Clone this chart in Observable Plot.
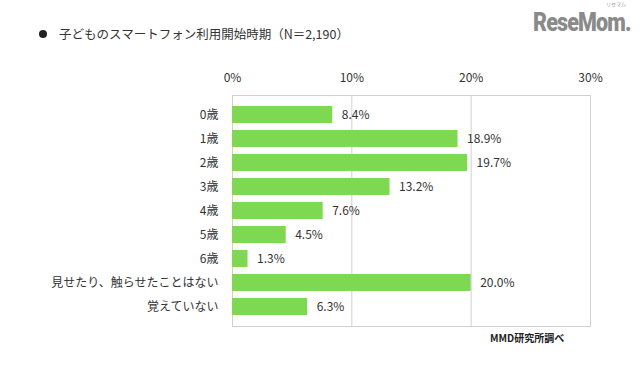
<!DOCTYPE html>
<html><head><meta charset="utf-8">
<script src="https://cdn.jsdelivr.net/npm/d3@7"></script>
<script src="https://cdn.jsdelivr.net/npm/@observablehq/plot@0.6"></script>
<style>
body{margin:0;background:#fff;font-family:"Noto Sans CJK JP","Noto Sans",sans-serif;}
#wrap{position:relative;width:640px;height:366px;overflow:hidden;}
#title{position:absolute;left:39px;top:24px;font-size:12.5px;color:#333;white-space:nowrap;}
#title .dot{display:inline-block;width:8px;height:8px;border-radius:50%;background:#222;margin-right:12px;vertical-align:1px;}
#logo{position:absolute;left:533px;top:12px;line-height:22px;font-family:"Roboto","DejaVu Sans",sans-serif;font-weight:900;font-size:25px;color:#8a8a8a;letter-spacing:-1px;transform:scaleX(0.86);transform-origin:left top;white-space:nowrap;}
#logo2{position:absolute;left:606px;top:1px;line-height:6px;font-size:5px;color:#999;white-space:nowrap;}
#src{position:absolute;left:490px;top:330px;font-size:10px;font-weight:bold;color:#222;white-space:nowrap;}
#chart{position:absolute;left:0;top:0;}
</style></head>
<body><div id="wrap">
<div id="chart"></div>
<div id="title"><span class="dot"></span>子どものスマートフォン利用開始時期（N＝2,190）</div>
<div id="logo">ReseMom.</div>
<div id="logo2">リセマム</div>
<div id="src">MMD研究所調べ</div>
</div>
<script>
const categories = ["0歳","1歳","2歳","3歳","4歳","5歳","6歳","見せたり、触らせたことはない","覚えていない"];
const values = [8.4, 18.9, 19.7, 13.2, 7.6, 4.5, 1.3, 20.0, 6.3];
const xTicks = [0, 10, 20, 30];
const data = categories.map((c, i) => ({cat: c, v: values[i]}));

const chart = Plot.plot({
  width: 640, height: 366,
  marginLeft: 232, marginRight: 50, marginTop: 95, marginBottom: 40,
  style: {fontFamily: '"Noto Sans CJK JP","Noto Sans",sans-serif', fontSize: "12px", color: "#333", background: "transparent"},
  x: {domain: [0, 30], axis: null},
  y: {domain: categories, padding: 0.3, axis: null},
  marks: [
    Plot.frame({stroke: "#d0d0d0", strokeWidth: 1}),
    Plot.ruleX(xTicks.slice(1, -1), {stroke: "#d0d0d0", strokeWidth: 1}),
    Plot.axisX({anchor: "top", ticks: xTicks, tickSize: 0, tickPadding: 14, tickFormat: d => d + "%", fontSize: 12, fill: "#333", label: null}),
    Plot.axisY({anchor: "left", tickSize: 0, tickPadding: 14, fontSize: 12, fill: "#333", label: null}),
    Plot.barX(data, {x: "v", y: "cat", fill: "#7fd852"}),
    Plot.text(data, {x: "v", y: "cat", text: d => d.v.toFixed(1) + "%", dx: 9, textAnchor: "start", fontSize: 12, fill: "#333"})
  ]
});
document.getElementById("chart").appendChild(chart);
</script>
</body></html>
